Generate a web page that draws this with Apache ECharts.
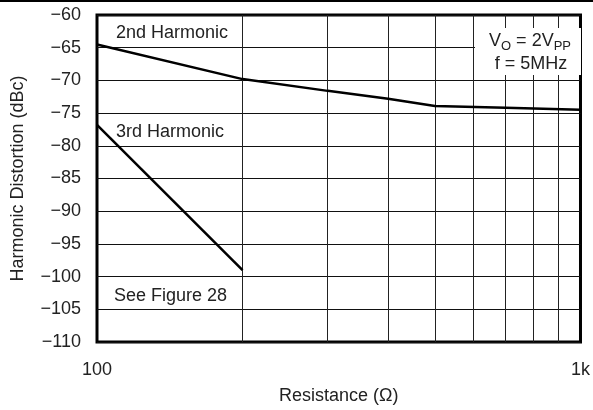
<!DOCTYPE html>
<html><head><meta charset="utf-8">
<script src="https://cdn.jsdelivr.net/npm/echarts@6/dist/echarts.min.js"></script>
<style>html,body{margin:0;padding:0;background:#fff}#c{width:593px;height:410px}</style>
</head><body><div id="c"></div>
<script>
const resistance2nd = [100, 200, 300, 400, 500, 700, 1000];
const harmonic2nd = [-64.5, -69.8, -71.6, -72.8, -73.9, -74.2, -74.5];
const resistance3rd = [100, 200];
const harmonic3rd = [-76.8, -99.0];
const verticalGridValues = [200, 300, 400, 500, 600, 700, 800, 900];
const yMin = -110, yMax = -60, yStep = 5;
const xMin = 100, xMax = 1000;

const FONT = 'Liberation Sans, Arial, Helvetica, sans-serif';
const FS = 18;
const chart = echarts.init(document.getElementById('c'), null, {renderer: 'canvas'});
const pairs = (xs, ys) => xs.map((x, i) => [x, ys[i]]);

chart.setOption({
  animation: false,
  backgroundColor: '#fff',
  grid: {left: 97, right: 10, top: 15, bottom: 65, show: true, borderColor: '#000', borderWidth: 3, backgroundColor: 'transparent'},
  xAxis: {
    type: 'log', logBase: 10, min: xMin, max: xMax,
    name: 'Resistance (Ω)', nameLocation: 'middle', nameGap: 45,
    nameTextStyle: {fontFamily: FONT, fontSize: FS, color: '#222'},
    axisLine: {show: false}, axisTick: {show: false},
    splitLine: {show: false},
    axisLabel: {fontFamily: FONT, fontSize: FS, color: '#222', margin: 19,
      formatter: v => (v >= 1000 ? (v / 1000) + 'k' : String(v))}
  },
  yAxis: {
    type: 'value', min: yMin, max: yMax, interval: yStep,
    name: 'Harmonic Distortion (dBc)', nameLocation: 'middle', nameGap: 70,
    nameTextStyle: {fontFamily: FONT, fontSize: FS, color: '#222'},
    axisLine: {show: false}, axisTick: {show: false},
    splitLine: {show: true, lineStyle: {color: '#111', width: 1}},
    axisLabel: {fontFamily: FONT, fontSize: FS, color: '#222', margin: 16,
      formatter: v => String(v).replace('-', '\u2212')}
  },
  series: [
    {
      type: 'line', data: pairs(resistance2nd, harmonic2nd), symbol: 'none',
      lineStyle: {color: '#000', width: 2.5}, z: 5,
      markLine: {
        silent: true, symbol: 'none', label: {show: false},
        lineStyle: {color: '#222', width: 1, type: 'solid'},
        data: verticalGridValues.map(v => ({xAxis: v}))
      }
    },
    {
      type: 'line', data: pairs(resistance3rd, harmonic3rd), symbol: 'none',
      lineStyle: {color: '#000', width: 2.5}, z: 5
    }
  ],
  graphic: [
    {type: 'line', shape: {x1: 0, y1: 1, x2: 593, y2: 1}, style: {stroke: '#000', lineWidth: 2}},
    {type: 'rect', shape: {x: 475, y: 28, width: 106, height: 47}, style: {fill: '#fff'}, z: 50},
    {type: 'text', x: 530, y: 41, z: 51, style: {
      text: 'V{s|O} = 2V{s|PP}', align: 'center', verticalAlign: 'middle',
      font: FS + 'px ' + FONT, fill: '#222',
      rich: {s: {fontSize: 13, fontFamily: FONT, fill: '#222', padding: [10, 0, 0, 0]}}
    }},
    {type: 'text', x: 531, y: 64, z: 51, style: {
      text: 'f = 5MHz', align: 'center', verticalAlign: 'middle', font: FS + 'px ' + FONT, fill: '#222'}},
    {type: 'text', x: 116, y: 33, z: 51, style: {
      text: '2nd Harmonic', align: 'left', verticalAlign: 'middle', font: FS + 'px ' + FONT, fill: '#222'}},
    {type: 'text', x: 116, y: 132, z: 51, style: {
      text: '3rd Harmonic', align: 'left', verticalAlign: 'middle', font: FS + 'px ' + FONT, fill: '#222'}},
    {type: 'text', x: 114, y: 296, z: 51, style: {
      text: 'See Figure 28', align: 'left', verticalAlign: 'middle', font: FS + 'px ' + FONT, fill: '#222'}}
  ]
});
</script></body></html>
